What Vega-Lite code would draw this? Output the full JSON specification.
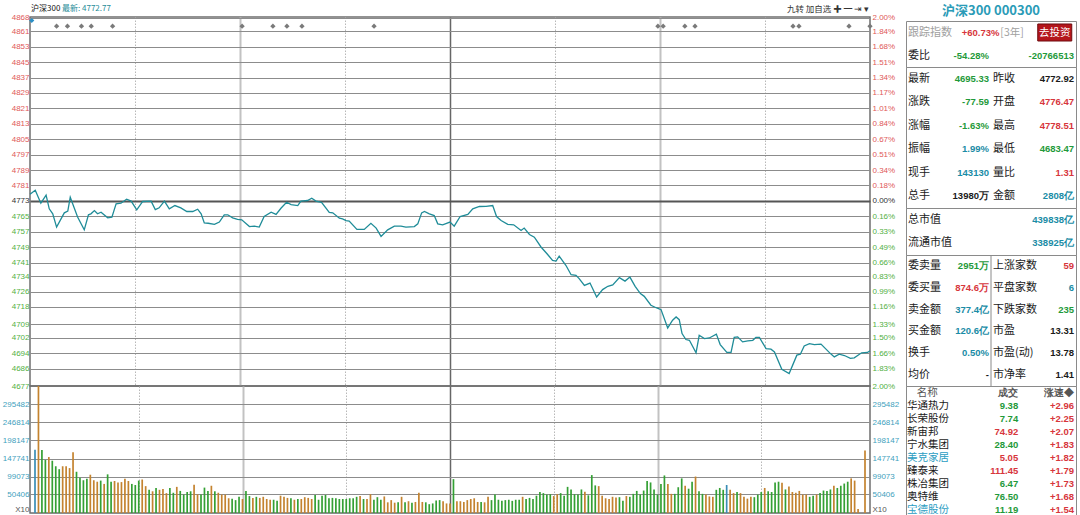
{
  "$schema": "https://vega.github.io/schema/vega-lite/v6.json",
  "background": "white",
  "padding": {"top": 4, "left": 0, "right": 0, "bottom": 0},
  "config": {"axis": {"labelFont": "Liberation Sans"}, "text": {"font": "Noto Sans CJK SC"}},
  "resolve": {"scale": {"color": "independent"}},
  "datasets": {
    "price": [
      {"t":0,"p":4776.5},{"t":1.5,"p":4778.5},{"t":3.1,"p":4771.8},{"t":4.6,"p":4776.0},{"t":5.5,"p":4768.9},{"t":6.5,"p":4766.3},{"t":7.6,"p":4759.4},{"t":9.8,"p":4766.8},{"t":10.8,"p":4767.7},{"t":11.5,"p":4774.9},
      {"t":13.6,"p":4764.6},{"t":15.5,"p":4758.0},{"t":16.7,"p":4765.8},{"t":17.4,"p":4766.3},{"t":18.4,"p":4768.0},{"t":19.3,"p":4766.3},{"t":20.3,"p":4767.1},{"t":22.2,"p":4764.2},{"t":23.4,"p":4764.6},{"t":24.6,"p":4771.5},
      {"t":26,"p":4771.8},{"t":27.6,"p":4773.9},{"t":28.9,"p":4772.9},{"t":30.5,"p":4768.4},{"t":32.2,"p":4772.7},{"t":34.6,"p":4772.9},{"t":35.8,"p":4768.5},{"t":36.9,"p":4769.4},{"t":38.4,"p":4772.9},{"t":39.8,"p":4768.9},
      {"t":41.4,"p":4770.6},{"t":43.1,"p":4769.4},{"t":44.8,"p":4767.5},{"t":46.5,"p":4767.5},{"t":47.9,"p":4768.7},{"t":48.9,"p":4766.3},{"t":49.8,"p":4761.6},{"t":50.9,"p":4761.4},{"t":52.7,"p":4760.8},{"t":54.1,"p":4762.0},
      {"t":55.5,"p":4765.8},{"t":56.5,"p":4765.8},{"t":57.9,"p":4764.2},{"t":59.3,"p":4763.4},{"t":60.5,"p":4763.2},{"t":62.7,"p":4759.7},{"t":64.1,"p":4759.9},{"t":65.5,"p":4759.4},{"t":66.9,"p":4764.9},{"t":68.9,"p":4767.1},
      {"t":70.3,"p":4766.0},{"t":71.7,"p":4769.2},{"t":73.3,"p":4772.3},{"t":74.6,"p":4771.1},{"t":76.5,"p":4770.6},{"t":77.4,"p":4772.9},{"t":79.3,"p":4773.2},{"t":80.5,"p":4774.4},{"t":81.7,"p":4772.9},{"t":83.3,"p":4772.3},
      {"t":85.5,"p":4767.1},{"t":86.5,"p":4766.8},{"t":88.4,"p":4764.0},{"t":89.3,"p":4763.7},{"t":90.3,"p":4762.8},{"t":91.2,"p":4762.5},{"t":93.4,"p":4758.2},{"t":95.5,"p":4758.2},{"t":97.4,"p":4761.4},{"t":98.9,"p":4758.9},
      {"t":100.3,"p":4754.6},{"t":102.2,"p":4758.0},{"t":104.1,"p":4759.9},{"t":106,"p":4759.9},{"t":107.4,"p":4759.4},{"t":109.8,"p":4759.7},{"t":110.8,"p":4761.1},{"t":111.9,"p":4766.8},{"t":112.7,"p":4767.5},{"t":114.1,"p":4766.3},
      {"t":115.5,"p":4765.4},{"t":116.5,"p":4761.1},{"t":117.9,"p":4760.6},{"t":120,"p":4762.0},{"t":121.2,"p":4759.9},{"t":122.9,"p":4764.9},{"t":125.1,"p":4766.0},{"t":126.5,"p":4768.9},{"t":128.4,"p":4770.1},{"t":130.3,"p":4770.2},
      {"t":132.2,"p":4770.6},{"t":133.3,"p":4764.9},{"t":134.6,"p":4762.8},{"t":136.5,"p":4760.8},{"t":138.2,"p":4760.6},{"t":140.3,"p":4757.7},{"t":141.2,"p":4758.9},{"t":142.7,"p":4755.6},{"t":144.1,"p":4754.2},{"t":146,"p":4749.1},
      {"t":147.9,"p":4745.2},{"t":149.3,"p":4742.1},{"t":150.3,"p":4741.8},{"t":151.2,"p":4744.4},{"t":153.1,"p":4739.6},{"t":154.6,"p":4734.7},{"t":156,"p":4734.4},{"t":156.9,"p":4732.7},{"t":158.4,"p":4729.2},{"t":160,"p":4730.4},
      {"t":161.9,"p":4723.2},{"t":163.6,"p":4727.0},{"t":165.1,"p":4728.7},{"t":166.5,"p":4729.4},{"t":168.4,"p":4733.2},{"t":170,"p":4731.4},{"t":171.4,"p":4733.5},{"t":172.9,"p":4728.7},{"t":174.4,"p":4724.9},{"t":175.5,"p":4723.5},
      {"t":177.4,"p":4718.9},{"t":178.9,"p":4717.6},{"t":180.3,"p":4716.6},{"t":182.2,"p":4707.1},{"t":183.6,"p":4711.1},{"t":184.6,"p":4712.8},{"t":185.5,"p":4711.4},{"t":186.3,"p":4704.2},{"t":187.4,"p":4701.1},{"t":188.4,"p":4700.7},
      {"t":190.3,"p":4694.2},{"t":191.2,"p":4703.3},{"t":192.7,"p":4701.6},{"t":194.1,"p":4701.9},{"t":196.1,"p":4703.9},{"t":197.2,"p":4698.5},{"t":199.1,"p":4694.4},{"t":200.3,"p":4694.4},{"t":201.2,"p":4702.2},{"t":202.2,"p":4702.5},
      {"t":203.6,"p":4699.9},{"t":205.1,"p":4700.4},{"t":206.5,"p":4700.7},{"t":207.4,"p":4702.2},{"t":208.4,"p":4702.2},{"t":210.3,"p":4696.4},{"t":211.7,"p":4696.1},{"t":212.7,"p":4694.7},{"t":214.8,"p":4685.7},{"t":216.9,"p":4683.5},
      {"t":219.1,"p":4693.0},{"t":220.1,"p":4693.5},{"t":221.2,"p":4697.8},{"t":222.7,"p":4699.0},{"t":224.1,"p":4698.5},{"t":226,"p":4698.7},{"t":228.7,"p":4693.8},{"t":229.8,"p":4692.1},{"t":231.2,"p":4693.5},{"t":232.7,"p":4692.8},
      {"t":234.4,"p":4691.3},{"t":235.5,"p":4691.6},{"t":237.6,"p":4694.2},{"t":239.3,"p":4694.4},{"t":240,"p":4695.3}
    ],
    "volume": [
      {"i":0,"v":172000,"d":"flat"},{"i":1,"v":380000,"d":"up"},{"i":2,"v":171000,"d":"down"},{"i":3,"v":144000,"d":"down"},{"i":4,"v":152000,"d":"up"},{"i":5,"v":142000,"d":"down"},{"i":6,"v":127000,"d":"down"},{"i":7,"v":119000,"d":"down"},{"i":8,"v":127000,"d":"up"},{"i":9,"v":127000,"d":"up"},
      {"i":10,"v":122000,"d":"up"},{"i":11,"v":165000,"d":"up"},{"i":12,"v":112000,"d":"down"},{"i":13,"v":96000,"d":"down"},{"i":14,"v":89000,"d":"down"},{"i":15,"v":93000,"d":"down"},{"i":16,"v":104000,"d":"up"},{"i":17,"v":89000,"d":"up"},{"i":18,"v":85000,"d":"up"},{"i":19,"v":88000,"d":"down"},
      {"i":20,"v":79000,"d":"up"},{"i":21,"v":105000,"d":"down"},{"i":22,"v":85000,"d":"down"},{"i":23,"v":87000,"d":"up"},{"i":24,"v":83000,"d":"up"},{"i":25,"v":84000,"d":"up"},{"i":26,"v":93000,"d":"up"},{"i":27,"v":87000,"d":"up"},{"i":28,"v":79000,"d":"down"},{"i":29,"v":76000,"d":"down"},
      {"i":30,"v":88000,"d":"down"},{"i":31,"v":91000,"d":"up"},{"i":32,"v":73000,"d":"up"},{"i":33,"v":63000,"d":"down"},{"i":34,"v":59000,"d":"up"},{"i":35,"v":68000,"d":"down"},{"i":36,"v":63000,"d":"up"},{"i":37,"v":65000,"d":"up"},{"i":38,"v":54000,"d":"up"},{"i":39,"v":68000,"d":"down"},
      {"i":40,"v":55000,"d":"down"},{"i":41,"v":71000,"d":"up"},{"i":42,"v":60000,"d":"down"},{"i":43,"v":50000,"d":"down"},{"i":44,"v":57000,"d":"down"},{"i":45,"v":59000,"d":"down"},{"i":46,"v":77000,"d":"up"},{"i":47,"v":51000,"d":"up"},{"i":48,"v":50000,"d":"down"},{"i":49,"v":69000,"d":"down"},
      {"i":50,"v":60000,"d":"down"},{"i":51,"v":74000,"d":"up"},{"i":52,"v":59000,"d":"down"},{"i":53,"v":55000,"d":"up"},{"i":54,"v":50000,"d":"up"},{"i":55,"v":50000,"d":"up"},{"i":56,"v":40000,"d":"up"},{"i":57,"v":39000,"d":"down"},{"i":58,"v":35000,"d":"down"},{"i":59,"v":44000,"d":"down"},
      {"i":60,"v":38000,"d":"up"},{"i":61,"v":60000,"d":"down"},{"i":62,"v":46000,"d":"down"},{"i":63,"v":41000,"d":"up"},{"i":64,"v":44000,"d":"down"},{"i":65,"v":41000,"d":"up"},{"i":66,"v":44000,"d":"up"},{"i":67,"v":38000,"d":"up"},{"i":68,"v":36000,"d":"up"},{"i":69,"v":36000,"d":"down"},
      {"i":70,"v":33000,"d":"down"},{"i":71,"v":47000,"d":"up"},{"i":72,"v":44000,"d":"up"},{"i":73,"v":41000,"d":"up"},{"i":74,"v":40000,"d":"down"},{"i":75,"v":36000,"d":"up"},{"i":76,"v":38000,"d":"down"},{"i":77,"v":38000,"d":"up"},{"i":78,"v":43000,"d":"up"},{"i":79,"v":41000,"d":"up"},
      {"i":80,"v":38000,"d":"up"},{"i":81,"v":49000,"d":"down"},{"i":82,"v":36000,"d":"down"},{"i":83,"v":47000,"d":"down"},{"i":84,"v":49000,"d":"down"},{"i":85,"v":40000,"d":"down"},{"i":86,"v":41000,"d":"down"},{"i":87,"v":40000,"d":"down"},{"i":88,"v":38000,"d":"down"},{"i":89,"v":38000,"d":"down"},
      {"i":90,"v":38000,"d":"down"},{"i":91,"v":40000,"d":"down"},{"i":92,"v":40000,"d":"down"},{"i":93,"v":44000,"d":"down"},{"i":94,"v":46000,"d":"up"},{"i":95,"v":38000,"d":"down"},{"i":96,"v":38000,"d":"up"},{"i":97,"v":51000,"d":"up"},{"i":98,"v":36000,"d":"down"},{"i":99,"v":43000,"d":"down"},
      {"i":100,"v":36000,"d":"down"},{"i":101,"v":45000,"d":"up"},{"i":102,"v":29000,"d":"up"},{"i":103,"v":35000,"d":"up"},{"i":104,"v":28000,"d":"up"},{"i":105,"v":29000,"d":"down"},{"i":106,"v":44000,"d":"up"},{"i":107,"v":29000,"d":"down"},{"i":108,"v":32000,"d":"up"},{"i":109,"v":28000,"d":"down"},
      {"i":110,"v":30000,"d":"up"},{"i":111,"v":55000,"d":"up"},{"i":112,"v":30000,"d":"up"},{"i":113,"v":29000,"d":"down"},{"i":114,"v":24000,"d":"down"},{"i":115,"v":26000,"d":"down"},{"i":116,"v":34000,"d":"down"},{"i":117,"v":35000,"d":"down"},{"i":118,"v":32000,"d":"up"},{"i":119,"v":26000,"d":"up"},
      {"i":120,"v":26000,"d":"up"},{"i":121,"v":92000,"d":"down"},{"i":122,"v":32000,"d":"up"},{"i":123,"v":32000,"d":"up"},{"i":124,"v":30000,"d":"up"},{"i":125,"v":35000,"d":"up"},{"i":126,"v":38000,"d":"up"},{"i":127,"v":40000,"d":"up"},{"i":128,"v":30000,"d":"up"},{"i":129,"v":30000,"d":"down"},
      {"i":130,"v":29000,"d":"up"},{"i":131,"v":44000,"d":"up"},{"i":132,"v":35000,"d":"down"},{"i":133,"v":50000,"d":"down"},{"i":134,"v":36000,"d":"down"},{"i":135,"v":33000,"d":"down"},{"i":136,"v":35000,"d":"down"},{"i":137,"v":36000,"d":"down"},{"i":138,"v":33000,"d":"down"},{"i":139,"v":36000,"d":"down"},
      {"i":140,"v":36000,"d":"down"},{"i":141,"v":44000,"d":"up"},{"i":142,"v":38000,"d":"down"},{"i":143,"v":41000,"d":"down"},{"i":144,"v":38000,"d":"down"},{"i":145,"v":47000,"d":"down"},{"i":146,"v":57000,"d":"down"},{"i":147,"v":54000,"d":"down"},{"i":148,"v":50000,"d":"down"},{"i":149,"v":51000,"d":"down"},
      {"i":150,"v":46000,"d":"up"},{"i":151,"v":51000,"d":"up"},{"i":152,"v":54000,"d":"down"},{"i":153,"v":47000,"d":"down"},{"i":154,"v":71000,"d":"down"},{"i":155,"v":64000,"d":"down"},{"i":156,"v":51000,"d":"down"},{"i":157,"v":50000,"d":"down"},{"i":158,"v":64000,"d":"down"},{"i":159,"v":58000,"d":"up"},
      {"i":160,"v":48000,"d":"down"},{"i":161,"v":103000,"d":"down"},{"i":162,"v":75000,"d":"down"},{"i":163,"v":73000,"d":"up"},{"i":164,"v":47000,"d":"up"},{"i":165,"v":40000,"d":"up"},{"i":166,"v":38000,"d":"up"},{"i":167,"v":44000,"d":"up"},{"i":168,"v":42000,"d":"up"},{"i":169,"v":43000,"d":"down"},
      {"i":170,"v":33000,"d":"down"},{"i":171,"v":46000,"d":"up"},{"i":172,"v":44000,"d":"down"},{"i":173,"v":52000,"d":"down"},{"i":174,"v":60000,"d":"down"},{"i":175,"v":50000,"d":"down"},{"i":176,"v":61000,"d":"down"},{"i":177,"v":87000,"d":"down"},{"i":178,"v":83000,"d":"down"},{"i":179,"v":64000,"d":"down"},
      {"i":180,"v":50000,"d":"down"},{"i":181,"v":79000,"d":"down"},{"i":182,"v":102000,"d":"down"},{"i":183,"v":79000,"d":"up"},{"i":184,"v":52000,"d":"up"},{"i":185,"v":52000,"d":"down"},{"i":186,"v":70000,"d":"down"},{"i":187,"v":94000,"d":"down"},{"i":188,"v":74000,"d":"up"},{"i":189,"v":66000,"d":"down"},
      {"i":190,"v":85000,"d":"down"},{"i":191,"v":99000,"d":"up"},{"i":192,"v":59000,"d":"down"},{"i":193,"v":52000,"d":"down"},{"i":194,"v":50000,"d":"up"},{"i":195,"v":45000,"d":"up"},{"i":196,"v":44000,"d":"up"},{"i":197,"v":63000,"d":"down"},{"i":198,"v":68000,"d":"down"},{"i":199,"v":63000,"d":"down"},
      {"i":200,"v":76000,"d":"flat"},{"i":201,"v":63000,"d":"up"},{"i":202,"v":54000,"d":"up"},{"i":203,"v":57000,"d":"down"},{"i":204,"v":54000,"d":"up"},{"i":205,"v":44000,"d":"up"},{"i":206,"v":39000,"d":"up"},{"i":207,"v":44000,"d":"up"},{"i":208,"v":43000,"d":"down"},{"i":209,"v":50000,"d":"down"},
      {"i":210,"v":57000,"d":"down"},{"i":211,"v":68000,"d":"up"},{"i":212,"v":59000,"d":"down"},{"i":213,"v":57000,"d":"down"},{"i":214,"v":83000,"d":"down"},{"i":215,"v":85000,"d":"down"},{"i":216,"v":82000,"d":"up"},{"i":217,"v":64000,"d":"down"},{"i":218,"v":72000,"d":"up"},{"i":219,"v":57000,"d":"up"},
      {"i":220,"v":55000,"d":"up"},{"i":221,"v":60000,"d":"up"},{"i":222,"v":50000,"d":"up"},{"i":223,"v":50000,"d":"up"},{"i":224,"v":44000,"d":"down"},{"i":225,"v":47000,"d":"down"},{"i":226,"v":50000,"d":"up"},{"i":227,"v":54000,"d":"down"},{"i":228,"v":61000,"d":"down"},{"i":229,"v":60000,"d":"down"},
      {"i":230,"v":64000,"d":"down"},{"i":231,"v":74000,"d":"up"},{"i":232,"v":68000,"d":"down"},{"i":233,"v":74000,"d":"down"},{"i":234,"v":80000,"d":"down"},{"i":235,"v":85000,"d":"down"},{"i":236,"v":94000,"d":"up"},{"i":237,"v":88000,"d":"up"},{"i":238,"v":11000,"d":"up"},{"i":240,"v":170000,"d":"up"}
    ],
    "news": [
      {"t":7.6,"kind":"news"},{"t":10.7,"kind":"news"},{"t":14.7,"kind":"news"},{"t":17.5,"kind":"news"},{"t":23.6,"kind":"news"},
      {"t":60.6,"kind":"news"},{"t":69.4,"kind":"news"},{"t":73.4,"kind":"news"},{"t":77.7,"kind":"news"},{"t":98.3,"kind":"news"},
      {"t":179.4,"kind":"news"},{"t":180.9,"kind":"news"},{"t":187.1,"kind":"news"},{"t":190,"kind":"news"},
      {"t":218,"kind":"news"},{"t":219.7,"kind":"news"},{"t":234,"kind":"news"},{"t":240,"kind":"news"},
      {"t":0.5,"kind":"now"}
    ],
    "head": [
      {"label":"沪深300","role":"name"},
      {"label":"最新: 4772.77","role":"last"},
      {"label":"九转  加自选  ✚  ━  ⇥  ▾","role":"tool"}
    ],
    "quote": [
      {"blk":"A","r":"r1","col":"a","kind":"label","txt":"跟踪指数","tone":"muted"},
      {"blk":"A","r":"r1","col":"c","kind":"pct","txt":"+60.73%","tone":"up"},
      {"blk":"A","r":"r1","col":"c","kind":"tag","txt":"[3年]","tone":"muted"},
      {"blk":"A","r":"r1","col":"d","kind":"button","txt":"去投资","tone":"flat"},
      {"blk":"A","r":"r2","col":"a","kind":"label","txt":"委比","tone":"flat"},
      {"blk":"A","r":"r2","col":"b","kind":"value","txt":"-54.28%","tone":"down"},
      {"blk":"A","r":"r2","col":"d","kind":"value","txt":"-20766513","tone":"down"},

      {"blk":"B","r":"r1","col":"a","kind":"label","txt":"最新","tone":"flat"},
      {"blk":"B","r":"r1","col":"b","kind":"value","txt":"4695.33","tone":"down"},
      {"blk":"B","r":"r1","col":"c","kind":"label","txt":"昨收","tone":"flat"},
      {"blk":"B","r":"r1","col":"d","kind":"value","txt":"4772.92","tone":"flat"},
      {"blk":"B","r":"r2","col":"a","kind":"label","txt":"涨跌","tone":"flat"},
      {"blk":"B","r":"r2","col":"b","kind":"value","txt":"-77.59","tone":"down"},
      {"blk":"B","r":"r2","col":"c","kind":"label","txt":"开盘","tone":"flat"},
      {"blk":"B","r":"r2","col":"d","kind":"value","txt":"4776.47","tone":"up"},
      {"blk":"B","r":"r3","col":"a","kind":"label","txt":"涨幅","tone":"flat"},
      {"blk":"B","r":"r3","col":"b","kind":"value","txt":"-1.63%","tone":"down"},
      {"blk":"B","r":"r3","col":"c","kind":"label","txt":"最高","tone":"flat"},
      {"blk":"B","r":"r3","col":"d","kind":"value","txt":"4778.51","tone":"up"},
      {"blk":"B","r":"r4","col":"a","kind":"label","txt":"振幅","tone":"flat"},
      {"blk":"B","r":"r4","col":"b","kind":"value","txt":"1.99%","tone":"info"},
      {"blk":"B","r":"r4","col":"c","kind":"label","txt":"最低","tone":"flat"},
      {"blk":"B","r":"r4","col":"d","kind":"value","txt":"4683.47","tone":"down"},
      {"blk":"B","r":"r5","col":"a","kind":"label","txt":"现手","tone":"flat"},
      {"blk":"B","r":"r5","col":"b","kind":"value","txt":"143130","tone":"info"},
      {"blk":"B","r":"r5","col":"c","kind":"label","txt":"量比","tone":"flat"},
      {"blk":"B","r":"r5","col":"d","kind":"value","txt":"1.31","tone":"up"},
      {"blk":"B","r":"r6","col":"a","kind":"label","txt":"总手","tone":"flat"},
      {"blk":"B","r":"r6","col":"b","kind":"value","txt":"13980万","tone":"flat"},
      {"blk":"B","r":"r6","col":"c","kind":"label","txt":"金额","tone":"flat"},
      {"blk":"B","r":"r6","col":"d","kind":"value","txt":"2808亿","tone":"info"},

      {"blk":"C","r":"r1","col":"a","kind":"label","txt":"总市值","tone":"flat"},
      {"blk":"C","r":"r1","col":"d","kind":"value","txt":"439838亿","tone":"info"},
      {"blk":"C","r":"r2","col":"a","kind":"label","txt":"流通市值","tone":"flat"},
      {"blk":"C","r":"r2","col":"d","kind":"value","txt":"338925亿","tone":"info"},

      {"blk":"D","r":"r1","col":"a","kind":"label","txt":"委卖量","tone":"flat"},
      {"blk":"D","r":"r1","col":"b","kind":"value","txt":"2951万","tone":"down"},
      {"blk":"D","r":"r1","col":"c","kind":"label","txt":"上涨家数","tone":"flat"},
      {"blk":"D","r":"r1","col":"d","kind":"value","txt":"59","tone":"up"},
      {"blk":"D","r":"r2","col":"a","kind":"label","txt":"委买量","tone":"flat"},
      {"blk":"D","r":"r2","col":"b","kind":"value","txt":"874.6万","tone":"up"},
      {"blk":"D","r":"r2","col":"c","kind":"label","txt":"平盘家数","tone":"flat"},
      {"blk":"D","r":"r2","col":"d","kind":"value","txt":"6","tone":"info"},
      {"blk":"D","r":"r3","col":"a","kind":"label","txt":"卖金额","tone":"flat"},
      {"blk":"D","r":"r3","col":"b","kind":"value","txt":"377.4亿","tone":"info"},
      {"blk":"D","r":"r3","col":"c","kind":"label","txt":"下跌家数","tone":"flat"},
      {"blk":"D","r":"r3","col":"d","kind":"value","txt":"235","tone":"down"},
      {"blk":"D","r":"r4","col":"a","kind":"label","txt":"买金额","tone":"flat"},
      {"blk":"D","r":"r4","col":"b","kind":"value","txt":"120.6亿","tone":"info"},
      {"blk":"D","r":"r4","col":"c","kind":"label","txt":"市盈","tone":"flat"},
      {"blk":"D","r":"r4","col":"d","kind":"value","txt":"13.31","tone":"flat"},
      {"blk":"D","r":"r5","col":"a","kind":"label","txt":"换手","tone":"flat"},
      {"blk":"D","r":"r5","col":"b","kind":"value","txt":"0.50%","tone":"info"},
      {"blk":"D","r":"r5","col":"c","kind":"label","txt":"市盈(动)","tone":"flat"},
      {"blk":"D","r":"r5","col":"d","kind":"value","txt":"13.78","tone":"flat"},
      {"blk":"D","r":"r6","col":"a","kind":"label","txt":"均价","tone":"flat"},
      {"blk":"D","r":"r6","col":"b","kind":"value","txt":"-","tone":"flat"},
      {"blk":"D","r":"r6","col":"c","kind":"label","txt":"市净率","tone":"flat"},
      {"blk":"D","r":"r6","col":"d","kind":"value","txt":"1.41","tone":"flat"},
      {"blk":"D","r":"r1","col":"c","kind":"divider","txt":"","tone":"flat"},

      {"blk":"E","r":"h","col":"a","kind":"head","txt":"名称","tone":"head"},
      {"blk":"E","r":"h","col":"c","kind":"px","txt":"成交","tone":"head"},
      {"blk":"E","r":"h","col":"d","kind":"value","txt":"涨速◆","tone":"head"},
      {"blk":"E","r":"1","col":"a","kind":"label","txt":"华通热力","tone":"flat"},
      {"blk":"E","r":"1","col":"c","kind":"px","txt":"9.38","tone":"down"},
      {"blk":"E","r":"1","col":"d","kind":"value","txt":"+2.96","tone":"up"},
      {"blk":"E","r":"2","col":"a","kind":"label","txt":"长荣股份","tone":"flat"},
      {"blk":"E","r":"2","col":"c","kind":"px","txt":"7.74","tone":"down"},
      {"blk":"E","r":"2","col":"d","kind":"value","txt":"+2.25","tone":"up"},
      {"blk":"E","r":"3","col":"a","kind":"label","txt":"新宙邦","tone":"flat"},
      {"blk":"E","r":"3","col":"c","kind":"px","txt":"74.92","tone":"up"},
      {"blk":"E","r":"3","col":"d","kind":"value","txt":"+2.07","tone":"up"},
      {"blk":"E","r":"4","col":"a","kind":"label","txt":"宁水集团","tone":"flat"},
      {"blk":"E","r":"4","col":"c","kind":"px","txt":"28.40","tone":"down"},
      {"blk":"E","r":"4","col":"d","kind":"value","txt":"+1.83","tone":"up"},
      {"blk":"E","r":"5","col":"a","kind":"label","txt":"美克家居","tone":"link"},
      {"blk":"E","r":"5","col":"c","kind":"px","txt":"5.05","tone":"up"},
      {"blk":"E","r":"5","col":"d","kind":"value","txt":"+1.82","tone":"up"},
      {"blk":"E","r":"6","col":"a","kind":"label","txt":"臻泰来","tone":"flat"},
      {"blk":"E","r":"6","col":"c","kind":"px","txt":"111.45","tone":"up"},
      {"blk":"E","r":"6","col":"d","kind":"value","txt":"+1.79","tone":"up"},
      {"blk":"E","r":"7","col":"a","kind":"label","txt":"株冶集团","tone":"flat"},
      {"blk":"E","r":"7","col":"c","kind":"px","txt":"6.47","tone":"down"},
      {"blk":"E","r":"7","col":"d","kind":"value","txt":"+1.73","tone":"up"},
      {"blk":"E","r":"8","col":"a","kind":"label","txt":"奥特维","tone":"flat"},
      {"blk":"E","r":"8","col":"c","kind":"px","txt":"76.50","tone":"down"},
      {"blk":"E","r":"8","col":"d","kind":"value","txt":"+1.68","tone":"up"},
      {"blk":"E","r":"9","col":"a","kind":"label","txt":"宝德股份","tone":"link"},
      {"blk":"E","r":"9","col":"c","kind":"px","txt":"11.19","tone":"down"},
      {"blk":"E","r":"9","col":"d","kind":"value","txt":"+1.54","tone":"up"}
    ]
  },
  "spacing": 5,
  "hconcat": [
    {
      "spacing": 0,
      "bounds": "flush",
      "vconcat": [
        {
          "width": 840,
          "height": 369,
          "view": {"stroke": "#6f6f6f", "strokeWidth": 1.5},
          "resolve": {"axis": {"y": "independent"}},
          "layer": [
            {
              "data": {"name": "price"},
              "mark": {"type": "line", "color": "#1f8c98", "strokeWidth": 1.3},
              "encoding": {
                "x": {
                  "field": "t", "type": "quantitative",
                  "scale": {"domain": [0, 240], "nice": false, "zero": false},
                  "axis": {
                    "values": [30, 60, 90, 120, 150, 180, 210],
                    "labels": false, "ticks": false, "domain": false, "title": null,
                    "grid": true, "minExtent": 0, "maxExtent": 0,
                    "gridColor": {"condition": [{"test": "datum.value == 120", "value": "#666666"}, {"test": "datum.value == 60 || datum.value == 180", "value": "#c2c2c2"}], "value": "#b8b8b8"},
                    "gridWidth": {"condition": [{"test": "datum.value == 120", "value": 1.5}, {"test": "datum.value == 60 || datum.value == 180", "value": 2}], "value": 1},
                    "gridDash": {"condition": {"test": "datum.value == 30 || datum.value == 90 || datum.value == 150 || datum.value == 210", "value": [1.5, 1.5]}, "value": []}
                  }
                },
                "y": {
                  "field": "p", "type": "quantitative",
                  "scale": {"domain": [4677, 4868.38], "nice": false, "zero": false},
                  "axis": {
                    "orient": "left", "title": null,
                    "values": [4677, 4686, 4694, 4702, 4709, 4718, 4726, 4734, 4741, 4749, 4757, 4765, 4773, 4781, 4789, 4797, 4805, 4813, 4821, 4829, 4837, 4845, 4853, 4861, 4868],
                    "format": "d", "ticks": false, "domain": false, "labelPadding": 1,
                    "labelFontSize": 8, "labelOverlap": false, "minExtent": 29, "maxExtent": 29,
                    "labelColor": {"condition": [{"test": "datum.value > 4773.5", "value": "#e05858"}, {"test": "datum.value > 4772", "value": "#333333"}], "value": "#52b043"},
                    "grid": true,
                    "gridColor": {"condition": {"test": "datum.value == 4773", "value": "#555555"}, "value": "#8c8c8c"},
                    "gridWidth": {"condition": {"test": "datum.value == 4773", "value": 2}, "value": 1}
                  }
                }
              }
            },
            {
              "data": {"name": "news"},
              "transform": [{"filter": "datum.kind == 'news'"}],
              "mark": {"type": "point", "shape": "diamond", "filled": true, "size": 28, "color": "#7a7a7a", "opacity": 1},
              "encoding": {
                "x": {"field": "t", "type": "quantitative"},
                "y": {
                  "datum": 4863.6, "type": "quantitative",
                  "axis": {
                    "orient": "right", "title": null,
                    "values": [4677, 4686, 4694, 4702, 4709, 4718, 4726, 4734, 4741, 4749, 4757, 4765, 4773, 4781, 4789, 4797, 4805, 4813, 4821, 4829, 4837, 4845, 4853, 4861, 4868],
                    "labelExpr": "['2.00%','1.83%','1.66%','1.50%','1.33%','1.16%','0.99%','0.83%','0.66%','0.49%','0.33%','0.16%','0.00%','0.18%','0.34%','0.51%','0.67%','0.84%','1.01%','1.17%','1.34%','1.51%','1.68%','1.84%','2.00%'][indexof([4677,4686,4694,4702,4709,4718,4726,4734,4741,4749,4757,4765,4773,4781,4789,4797,4805,4813,4821,4829,4837,4845,4853,4861,4868], datum.value)]",
                    "ticks": false, "domain": false, "grid": false, "labelPadding": 2,
                    "labelFontSize": 8, "labelOverlap": false, "minExtent": 28, "maxExtent": 28,
                    "labelColor": {"condition": [{"test": "datum.value > 4773.5", "value": "#e05858"}, {"test": "datum.value > 4772", "value": "#333333"}], "value": "#52b043"}
                  }
                }
              }
            },
            {
              "data": {"name": "news"},
              "transform": [{"filter": "datum.kind == 'now'"}],
              "mark": {"type": "point", "shape": "diamond", "filled": true, "size": 26, "color": "#2b8fc6", "opacity": 1},
              "encoding": {
                "x": {"field": "t", "type": "quantitative"},
                "y": {"datum": 4866.6, "type": "quantitative", "axis": null}
              }
            },
            {
              "data": {"name": "head"},
              "transform": [{"filter": "datum.role == 'name'"}],
              "mark": {"type": "text", "align": "left", "baseline": "middle", "dx": 1, "dy": -8, "fontSize": 8, "color": "#111111"},
              "encoding": {
                "x": {"datum": 0, "type": "quantitative"},
                "y": {"datum": 4868.38, "type": "quantitative", "axis": null},
                "text": {"field": "label"}
              }
            },
            {
              "data": {"name": "head"},
              "transform": [{"filter": "datum.role == 'last'"}],
              "mark": {"type": "text", "align": "left", "baseline": "middle", "dx": 32, "dy": -8, "fontSize": 8, "color": "#1f8c98"},
              "encoding": {
                "x": {"datum": 0, "type": "quantitative"},
                "y": {"datum": 4868.38, "type": "quantitative", "axis": null},
                "text": {"field": "label"}
              }
            },
            {
              "data": {"name": "head"},
              "transform": [{"filter": "datum.role == 'tool'"}],
              "mark": {"type": "text", "align": "right", "baseline": "middle", "dx": -1, "dy": -8, "fontSize": 8.5, "color": "#333333"},
              "encoding": {
                "x": {"datum": 240, "type": "quantitative"},
                "y": {"datum": 4868.38, "type": "quantitative", "axis": null},
                "text": {"field": "label"}
              }
            }
          ]
        },
        {
          "width": 840,
          "height": 127,
          "view": {"stroke": "#6f6f6f", "strokeWidth": 1.5},
          "resolve": {"axis": {"y": "independent"}},
          "layer": [
            {
              "data": {"name": "volume"},
              "mark": {"type": "bar", "size": 1.7, "clip": true},
              "encoding": {
                "x": {
                  "field": "i", "type": "quantitative",
                  "scale": {"domain": [0, 240], "nice": false, "zero": false},
                  "axis": {
                    "values": [30, 60, 90, 120, 150, 180, 210],
                    "labels": false, "ticks": false, "domain": false, "title": null,
                    "grid": true, "minExtent": 0, "maxExtent": 0,
                    "gridColor": {"condition": [{"test": "datum.value == 120", "value": "#666666"}, {"test": "datum.value == 60 || datum.value == 180", "value": "#c2c2c2"}], "value": "#b8b8b8"},
                    "gridWidth": {"condition": [{"test": "datum.value == 120", "value": 1.5}, {"test": "datum.value == 60 || datum.value == 180", "value": 2}], "value": 1},
                    "gridDash": {"condition": {"test": "datum.value == 30 || datum.value == 90 || datum.value == 150 || datum.value == 210", "value": [1.5, 1.5]}, "value": []}
                  }
                },
                "y": {
                  "field": "v", "type": "quantitative",
                  "scale": {"domain": [0, 345000], "nice": false},
                  "axis": {
                    "orient": "left", "title": null,
                    "values": [0, 50406, 99073, 147741, 198147, 246814, 295482],
                    "format": "d",
                    "labelExpr": "datum.value == 0 ? 'X10' : datum.label",
                    "ticks": false, "domain": false, "labelPadding": 1,
                    "labelFontSize": 8, "labelOverlap": false, "minExtent": 29, "maxExtent": 29,
                    "labelColor": {"condition": {"test": "datum.value == 0", "value": "#555555"}, "value": "#3f9fbd"},
                    "labelBaseline": {"condition": {"test": "datum.value == 0", "value": "bottom"}, "value": "middle"},
                    "grid": true, "gridColor": "#8c8c8c", "gridWidth": 1
                  }
                },
                "color": {"field": "d", "type": "nominal", "scale": {"domain": ["up", "down", "flat"], "range": ["#c4832f", "#34a034", "#3a8db5"]}, "legend": null}
              }
            },
            {
              "data": {"name": "volume"},
              "transform": [{"filter": "datum.i == 0"}],
              "mark": {"type": "rule", "opacity": 0},
              "encoding": {
                "y": {
                  "datum": 0, "type": "quantitative",
                  "axis": {
                    "orient": "right", "title": null,
                    "values": [0, 50406, 99073, 147741, 198147, 246814, 295482],
                    "format": "d",
                    "labelExpr": "datum.value == 0 ? 'X10' : datum.label",
                    "ticks": false, "domain": false, "grid": false, "labelPadding": 2,
                    "labelFontSize": 8, "labelOverlap": false, "minExtent": 28, "maxExtent": 28,
                    "labelColor": {"condition": {"test": "datum.value == 0", "value": "#555555"}, "value": "#3f9fbd"},
                    "labelBaseline": {"condition": {"test": "datum.value == 0", "value": "bottom"}, "value": "middle"}
                  }
                }
              }
            }
          ]
        }
      ]
    },
    {
      "title": {"text": "沪深300 000300", "anchor": "middle", "fontSize": 13, "font": "Noto Sans CJK SC", "fontWeight": "bold", "color": "#2a9bb7", "offset": -2},
      "spacing": 0,
      "bounds": "flush",
      "vconcat": [
        {
          "width": 170, "height": 4,
          "view": {"stroke": null},
          "data": {"values": [{}]},
          "mark": {"type": "point", "opacity": 0},
          "encoding": {}
        },
        {
          "width": 170, "height": 46,
          "view": {"stroke": "#8a8a8a"},
          "data": {"name": "quote"},
          "transform": [{"filter": "datum.blk == 'A'"}],
          "layer": [
            {
              "transform": [{"filter": "datum.kind == 'button'"}],
              "mark": {"type": "bar", "color": "#b4161c", "stroke": "#6e0b0e", "strokeWidth": 1, "width": {"band": 0.8}, "height": {"band": 0.74}},
              "encoding": {
                "x": {"field": "col", "type": "nominal", "scale": {"type": "band", "domain": ["a", "b", "c", "d"], "paddingInner": 0, "paddingOuter": 0}, "axis": null},
                "y": {"field": "r", "type": "nominal", "scale": {"domain": ["r1", "r2"], "paddingInner": 0, "paddingOuter": 0}, "axis": null}
              }
            },
            {
              "transform": [{"filter": "datum.kind == 'button'"}],
              "mark": {"type": "text", "color": "white", "fontSize": 10.5},
              "encoding": {
                "x": {"field": "col", "type": "nominal", "scale": {"type": "band", "domain": ["a", "b", "c", "d"], "paddingInner": 0, "paddingOuter": 0}, "axis": null},
                "y": {"field": "r", "type": "nominal", "scale": {"domain": ["r1", "r2"], "paddingInner": 0, "paddingOuter": 0}, "axis": null},
                "text": {"field": "txt"}
              }
            },
            {
              "transform": [{"filter": "datum.kind == 'pct'"}],
              "mark": {"type": "text", "align": "right", "fontSize": 9.5, "fontWeight": "bold", "font": "Liberation Sans"},
              "encoding": {
                "x": {"field": "col", "type": "nominal", "bandPosition": 0.2, "scale": {"type": "band", "domain": ["a", "b", "c", "d"], "paddingInner": 0, "paddingOuter": 0}, "axis": null},
                "y": {"field": "r", "type": "nominal", "scale": {"domain": ["r1", "r2"], "paddingInner": 0, "paddingOuter": 0}, "axis": null},
                "text": {"field": "txt"},
                "color": {"field": "tone", "type": "nominal", "scale": {"domain": ["up", "down", "flat", "info", "muted", "link", "head"], "range": ["#d7363c", "#1f9a3a", "#1a1a1a", "#1a8ca6", "#a0a0a0", "#2b9dc2", "#555555"]}, "legend": null}
              }
            },
            {
              "transform": [{"filter": "datum.kind == 'tag'"}],
              "mark": {"type": "text", "align": "left", "fontSize": 10.5},
              "encoding": {
                "x": {"field": "col", "type": "nominal", "bandPosition": 0.22, "scale": {"type": "band", "domain": ["a", "b", "c", "d"], "paddingInner": 0, "paddingOuter": 0}, "axis": null},
                "y": {"field": "r", "type": "nominal", "scale": {"domain": ["r1", "r2"], "paddingInner": 0, "paddingOuter": 0}, "axis": null},
                "text": {"field": "txt"},
                "color": {"field": "tone", "type": "nominal", "scale": {"domain": ["up", "down", "flat", "info", "muted", "link", "head"], "range": ["#d7363c", "#1f9a3a", "#1a1a1a", "#1a8ca6", "#a0a0a0", "#2b9dc2", "#555555"]}, "legend": null}
              }
            },
            {
              "transform": [{"filter": "datum.kind == 'label'"}],
              "mark": {"type": "text", "align": "left", "dx": 2, "fontSize": 11},
              "encoding": {
                "x": {"field": "col", "type": "nominal", "bandPosition": 0, "scale": {"type": "band", "domain": ["a", "b", "c", "d"], "paddingInner": 0, "paddingOuter": 0}, "axis": null},
                "y": {"field": "r", "type": "nominal", "scale": {"domain": ["r1", "r2"], "paddingInner": 0, "paddingOuter": 0}, "axis": null},
                "text": {"field": "txt"},
                "color": {"field": "tone", "type": "nominal", "scale": {"domain": ["up", "down", "flat", "info", "muted", "link", "head"], "range": ["#d7363c", "#1f9a3a", "#1a1a1a", "#1a8ca6", "#a0a0a0", "#2b9dc2", "#555555"]}, "legend": null}
              }
            },
            {
              "transform": [{"filter": "datum.kind == 'value'"}],
              "mark": {"type": "text", "align": "right", "dx": -2, "fontSize": 9.5, "fontWeight": "bold", "font": "Liberation Sans"},
              "encoding": {
                "x": {"field": "col", "type": "nominal", "bandPosition": 1, "scale": {"type": "band", "domain": ["a", "b", "c", "d"], "paddingInner": 0, "paddingOuter": 0}, "axis": null},
                "y": {"field": "r", "type": "nominal", "scale": {"domain": ["r1", "r2"], "paddingInner": 0, "paddingOuter": 0}, "axis": null},
                "text": {"field": "txt"},
                "color": {"field": "tone", "type": "nominal", "scale": {"domain": ["up", "down", "flat", "info", "muted", "link", "head"], "range": ["#d7363c", "#1f9a3a", "#1a1a1a", "#1a8ca6", "#a0a0a0", "#2b9dc2", "#555555"]}, "legend": null}
              }
            }
          ]
        },
        {
          "width": 170, "height": 141,
          "view": {"stroke": "#8a8a8a"},
          "data": {"name": "quote"},
          "transform": [{"filter": "datum.blk == 'B'"}],
          "layer": [
            {
              "transform": [{"filter": "datum.kind == 'label'"}],
              "mark": {"type": "text", "align": "left", "dx": 2, "fontSize": 11},
              "encoding": {
                "x": {"field": "col", "type": "nominal", "bandPosition": 0, "scale": {"type": "band", "domain": ["a", "b", "c", "d"], "paddingInner": 0, "paddingOuter": 0}, "axis": null},
                "y": {"field": "r", "type": "nominal", "scale": {"domain": ["r1", "r2", "r3", "r4", "r5", "r6"], "paddingInner": 0, "paddingOuter": 0}, "axis": null},
                "text": {"field": "txt"},
                "color": {"field": "tone", "type": "nominal", "scale": {"domain": ["up", "down", "flat", "info", "muted", "link", "head"], "range": ["#d7363c", "#1f9a3a", "#1a1a1a", "#1a8ca6", "#a0a0a0", "#2b9dc2", "#555555"]}, "legend": null}
              }
            },
            {
              "transform": [{"filter": "datum.kind == 'value'"}],
              "mark": {"type": "text", "align": "right", "dx": -2, "fontSize": 9.5, "fontWeight": "bold", "font": "Liberation Sans"},
              "encoding": {
                "x": {"field": "col", "type": "nominal", "bandPosition": 1, "scale": {"type": "band", "domain": ["a", "b", "c", "d"], "paddingInner": 0, "paddingOuter": 0}, "axis": null},
                "y": {"field": "r", "type": "nominal", "scale": {"domain": ["r1", "r2", "r3", "r4", "r5", "r6"], "paddingInner": 0, "paddingOuter": 0}, "axis": null},
                "text": {"field": "txt"},
                "color": {"field": "tone", "type": "nominal", "scale": {"domain": ["up", "down", "flat", "info", "muted", "link", "head"], "range": ["#d7363c", "#1f9a3a", "#1a1a1a", "#1a8ca6", "#a0a0a0", "#2b9dc2", "#555555"]}, "legend": null}
              }
            }
          ]
        },
        {
          "width": 170, "height": 47,
          "view": {"stroke": "#8a8a8a"},
          "data": {"name": "quote"},
          "transform": [{"filter": "datum.blk == 'C'"}],
          "layer": [
            {
              "transform": [{"filter": "datum.kind == 'label'"}],
              "mark": {"type": "text", "align": "left", "dx": 2, "fontSize": 11},
              "encoding": {
                "x": {"field": "col", "type": "nominal", "bandPosition": 0, "scale": {"type": "band", "domain": ["a", "b", "c", "d"], "paddingInner": 0, "paddingOuter": 0}, "axis": null},
                "y": {"field": "r", "type": "nominal", "scale": {"domain": ["r1", "r2"], "paddingInner": 0, "paddingOuter": 0}, "axis": null},
                "text": {"field": "txt"},
                "color": {"field": "tone", "type": "nominal", "scale": {"domain": ["up", "down", "flat", "info", "muted", "link", "head"], "range": ["#d7363c", "#1f9a3a", "#1a1a1a", "#1a8ca6", "#a0a0a0", "#2b9dc2", "#555555"]}, "legend": null}
              }
            },
            {
              "transform": [{"filter": "datum.kind == 'value'"}],
              "mark": {"type": "text", "align": "right", "dx": -2, "fontSize": 9.5, "fontWeight": "bold", "font": "Liberation Sans"},
              "encoding": {
                "x": {"field": "col", "type": "nominal", "bandPosition": 1, "scale": {"type": "band", "domain": ["a", "b", "c", "d"], "paddingInner": 0, "paddingOuter": 0}, "axis": null},
                "y": {"field": "r", "type": "nominal", "scale": {"domain": ["r1", "r2"], "paddingInner": 0, "paddingOuter": 0}, "axis": null},
                "text": {"field": "txt"},
                "color": {"field": "tone", "type": "nominal", "scale": {"domain": ["up", "down", "flat", "info", "muted", "link", "head"], "range": ["#d7363c", "#1f9a3a", "#1a1a1a", "#1a8ca6", "#a0a0a0", "#2b9dc2", "#555555"]}, "legend": null}
              }
            }
          ]
        },
        {
          "width": 170, "height": 131,
          "view": {"stroke": "#8a8a8a"},
          "data": {"name": "quote"},
          "transform": [{"filter": "datum.blk == 'D'"}],
          "layer": [
            {
              "transform": [{"filter": "datum.kind == 'divider'"}],
              "mark": {"type": "rule", "color": "#8a8a8a"},
              "encoding": {
                "x": {"field": "col", "type": "nominal", "bandPosition": 0, "scale": {"type": "band", "domain": ["a", "b", "c", "d"], "paddingInner": 0, "paddingOuter": 0}, "axis": null}
              }
            },
            {
              "transform": [{"filter": "datum.kind == 'label'"}],
              "mark": {"type": "text", "align": "left", "dx": 2, "fontSize": 11},
              "encoding": {
                "x": {"field": "col", "type": "nominal", "bandPosition": 0, "scale": {"type": "band", "domain": ["a", "b", "c", "d"], "paddingInner": 0, "paddingOuter": 0}, "axis": null},
                "y": {"field": "r", "type": "nominal", "scale": {"domain": ["r1", "r2", "r3", "r4", "r5", "r6"], "paddingInner": 0, "paddingOuter": 0}, "axis": null},
                "text": {"field": "txt"},
                "color": {"field": "tone", "type": "nominal", "scale": {"domain": ["up", "down", "flat", "info", "muted", "link", "head"], "range": ["#d7363c", "#1f9a3a", "#1a1a1a", "#1a8ca6", "#a0a0a0", "#2b9dc2", "#555555"]}, "legend": null}
              }
            },
            {
              "transform": [{"filter": "datum.kind == 'value'"}],
              "mark": {"type": "text", "align": "right", "dx": -2, "fontSize": 9.5, "fontWeight": "bold", "font": "Liberation Sans"},
              "encoding": {
                "x": {"field": "col", "type": "nominal", "bandPosition": 1, "scale": {"type": "band", "domain": ["a", "b", "c", "d"], "paddingInner": 0, "paddingOuter": 0}, "axis": null},
                "y": {"field": "r", "type": "nominal", "scale": {"domain": ["r1", "r2", "r3", "r4", "r5", "r6"], "paddingInner": 0, "paddingOuter": 0}, "axis": null},
                "text": {"field": "txt"},
                "color": {"field": "tone", "type": "nominal", "scale": {"domain": ["up", "down", "flat", "info", "muted", "link", "head"], "range": ["#d7363c", "#1f9a3a", "#1a1a1a", "#1a8ca6", "#a0a0a0", "#2b9dc2", "#555555"]}, "legend": null}
              }
            }
          ]
        },
        {
          "width": 170, "height": 130,
          "view": {"stroke": "#8a8a8a"},
          "data": {"name": "quote"},
          "transform": [{"filter": "datum.blk == 'E'"}],
          "layer": [
            {
              "transform": [{"filter": "datum.kind == 'head'"}],
              "mark": {"type": "text", "align": "center", "fontSize": 10.5},
              "encoding": {
                "x": {"field": "col", "type": "nominal", "bandPosition": 0.5, "scale": {"type": "band", "domain": ["a", "b", "c", "d"], "paddingInner": 0, "paddingOuter": 0}, "axis": null},
                "y": {"field": "r", "type": "nominal", "scale": {"domain": ["h", "1", "2", "3", "4", "5", "6", "7", "8", "9"], "paddingInner": 0, "paddingOuter": 0}, "axis": null},
                "text": {"field": "txt"},
                "color": {"field": "tone", "type": "nominal", "scale": {"domain": ["up", "down", "flat", "info", "muted", "link", "head"], "range": ["#d7363c", "#1f9a3a", "#1a1a1a", "#1a8ca6", "#a0a0a0", "#2b9dc2", "#555555"]}, "legend": null}
              }
            },
            {
              "transform": [{"filter": "datum.kind == 'label'"}],
              "mark": {"type": "text", "align": "left", "dx": 1, "fontSize": 10.5},
              "encoding": {
                "x": {"field": "col", "type": "nominal", "bandPosition": 0, "scale": {"type": "band", "domain": ["a", "b", "c", "d"], "paddingInner": 0, "paddingOuter": 0}, "axis": null},
                "y": {"field": "r", "type": "nominal", "scale": {"domain": ["h", "1", "2", "3", "4", "5", "6", "7", "8", "9"], "paddingInner": 0, "paddingOuter": 0}, "axis": null},
                "text": {"field": "txt"},
                "color": {"field": "tone", "type": "nominal", "scale": {"domain": ["up", "down", "flat", "info", "muted", "link", "head"], "range": ["#d7363c", "#1f9a3a", "#1a1a1a", "#1a8ca6", "#a0a0a0", "#2b9dc2", "#555555"]}, "legend": null}
              }
            },
            {
              "transform": [{"filter": "datum.kind == 'px'"}],
              "mark": {"type": "text", "align": "right", "fontSize": 9.5, "fontWeight": "bold", "font": "Liberation Sans"},
              "encoding": {
                "x": {"field": "col", "type": "nominal", "bandPosition": 0.64, "scale": {"type": "band", "domain": ["a", "b", "c", "d"], "paddingInner": 0, "paddingOuter": 0}, "axis": null},
                "y": {"field": "r", "type": "nominal", "scale": {"domain": ["h", "1", "2", "3", "4", "5", "6", "7", "8", "9"], "paddingInner": 0, "paddingOuter": 0}, "axis": null},
                "text": {"field": "txt"},
                "color": {"field": "tone", "type": "nominal", "scale": {"domain": ["up", "down", "flat", "info", "muted", "link", "head"], "range": ["#d7363c", "#1f9a3a", "#1a1a1a", "#1a8ca6", "#a0a0a0", "#2b9dc2", "#555555"]}, "legend": null}
              }
            },
            {
              "transform": [{"filter": "datum.kind == 'value'"}],
              "mark": {"type": "text", "align": "right", "dx": -2, "fontSize": 9.5, "fontWeight": "bold", "font": "Liberation Sans"},
              "encoding": {
                "x": {"field": "col", "type": "nominal", "bandPosition": 1, "scale": {"type": "band", "domain": ["a", "b", "c", "d"], "paddingInner": 0, "paddingOuter": 0}, "axis": null},
                "y": {"field": "r", "type": "nominal", "scale": {"domain": ["h", "1", "2", "3", "4", "5", "6", "7", "8", "9"], "paddingInner": 0, "paddingOuter": 0}, "axis": null},
                "text": {"field": "txt"},
                "color": {"field": "tone", "type": "nominal", "scale": {"domain": ["up", "down", "flat", "info", "muted", "link", "head"], "range": ["#d7363c", "#1f9a3a", "#1a1a1a", "#1a8ca6", "#a0a0a0", "#2b9dc2", "#555555"]}, "legend": null}
              }
            }
          ]
        }
      ]
    }
  ]
}
